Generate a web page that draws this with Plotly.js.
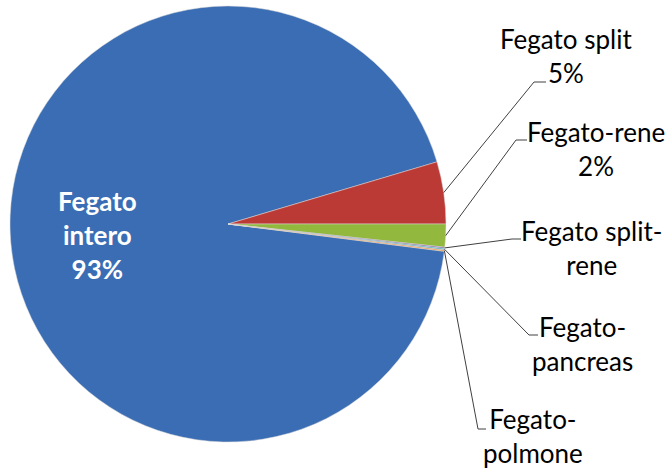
<!DOCTYPE html>
<html>
<head>
<meta charset="utf-8">
<script src="https://cdn.plot.ly/plotly-3.0.1.min.js"></script>
<style>html,body{margin:0;padding:0;background:#fff;}#chart{width:671px;height:468px;}</style>
</head>
<body>
<div id="chart"></div>
<script>
// Data
var categories = ["Fegato intero", "Fegato split", "Fegato-rene", "Fegato split-rene", "Fegato-pancreas", "Fegato-polmone"];
var values = [93.4, 4.6, 1.7, 0.1, 0.1, 0.1];
var labelTexts = ["Fegato<br>intero<br>93%", "Fegato split<br>5%", "Fegato-rene<br>2%", "Fegato split-<br>rene", "Fegato-<br>pancreas", "Fegato-<br>polmone"];
var colors = ["#3A6DB3", "#BC3A36", "#93B83E", "#8064A2", "#4BACC6", "#F79646"];

// Layout geometry (pixels)
var W = 671, H = 468;
var cx = 228, cy = 224, R = 218;
var rotation = 97.2;
// label centres and leader stub (start, end) for outside labels
var labelPos = [null, [566, 56], [596, 149], [591, 248], [582, 344], [533, 436]];
var stubs = [null, [[534, 82], [546, 82]], [[516, 140], [527, 140]], [[512, 239], [521, 239]], [[529, 335], [538, 335]], [[478, 429], [486, 429]]];

function px(x) { return x / W; }
function py(y) { return 1 - y / H; }

var total = values.reduce(function (a, b) { return a + b; }, 0);
var start = rotation;
var mids = [];
values.forEach(function (v) {
  var span = 360 * v / total;
  mids.push(start + span / 2);
  start += span;
});

var annotations = [];
var shapes = [];
var fontFam = "Lato, 'Open Sans', sans-serif";
mids.forEach(function (m, i) {
  var rad = m * Math.PI / 180;
  if (i === 0) {
    var r = 0.6 * R;
    var tx = cx + r * Math.sin(rad), ty = cy - r * Math.cos(rad);
    annotations.push({
      x: px(tx), y: py(ty), xref: "paper", yref: "paper",
      text: "<b>" + labelTexts[i] + "</b>", showarrow: false,
      xanchor: "center", yanchor: "middle", align: "center",
      font: { family: fontFam, size: 26, color: "#ffffff" }
    });
  } else {
    var ex = cx + R * Math.sin(rad), ey = cy - R * Math.cos(rad);
    var s = stubs[i];
    var path = "M" + px(ex) + "," + py(ey) + " L" + px(s[0][0]) + "," + py(s[0][1]) + " L" + px(s[1][0]) + "," + py(s[1][1]);
    shapes.push({ type: "path", xref: "paper", yref: "paper", path: path, line: { color: "#404040", width: 1 } });
    annotations.push({
      x: px(labelPos[i][0]), y: py(labelPos[i][1]), xref: "paper", yref: "paper",
      text: labelTexts[i], showarrow: false,
      xanchor: "center", yanchor: "middle", align: "center",
      font: { family: fontFam, size: 26, color: "#000000" }
    });
  }
});

var trace = {
  type: "pie",
  labels: categories,
  values: values,
  sort: false,
  direction: "clockwise",
  rotation: rotation,
  textinfo: "none",
  hoverinfo: "label+percent",
  marker: { colors: colors, line: { color: "#d9d9d9", width: 0.5 } },
  domain: { x: [px(cx - R), px(cx + R)], y: [py(cy + R), py(cy - R)] }
};

var layout = {
  width: W, height: H,
  margin: { l: 0, r: 0, t: 0, b: 0 },
  showlegend: false,
  paper_bgcolor: "#ffffff",
  annotations: annotations,
  shapes: shapes
};

Plotly.newPlot("chart", [trace], layout, { displayModeBar: false, staticPlot: true });
</script>
</body>
</html>
